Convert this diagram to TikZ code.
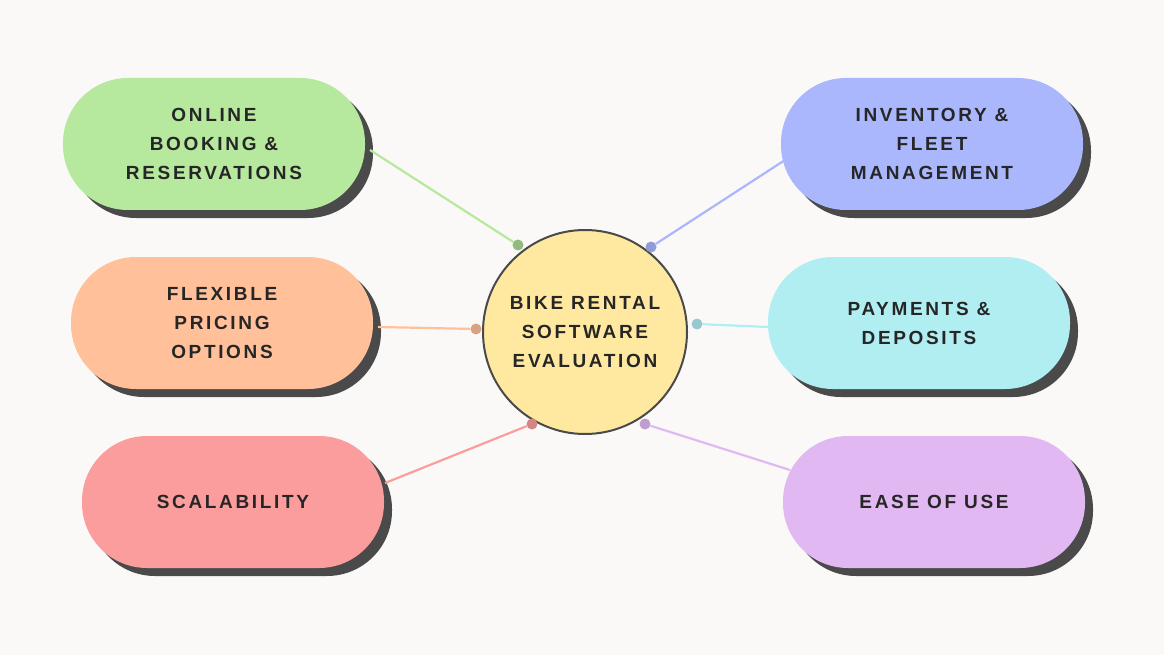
\documentclass[tikz,border=0pt]{standalone}
\usepackage{fontspec}
\setmainfont{Liberation Sans}[LetterSpace=14]
\usetikzlibrary{shadows}
\definecolor{bgc}{HTML}{FAF9F8}
\definecolor{shd}{HTML}{4A4A4A}
\definecolor{cgreen}{HTML}{B6E89E}
\definecolor{corange}{HTML}{FFC09A}
\definecolor{cred}{HTML}{FC9D9D}
\definecolor{cblue}{HTML}{AAB7FD}
\definecolor{ccyan}{HTML}{B1EEF2}
\definecolor{cpurple}{HTML}{E2B8F3}
\definecolor{cyellow}{HTML}{FFE9A1}
\begin{document}
\begin{tikzpicture}[x=1pt,y=-1pt]
  \tikzset{pill/.style={rounded corners=65pt,minimum width=302pt,minimum height=132pt,
      align=center,font=\bfseries\fontsize{19}{29}\selectfont,text=black!85,
      drop shadow={shadow xshift=8pt,shadow yshift=-8pt,fill=shd,opacity=1}},
    link/.style={line width=2.2pt},
    knob/.style={circle,inner sep=0pt,minimum size=11pt}}
  \fill[bgc] (0,0) rectangle (1164,655);
  \useasboundingbox (0,0) rectangle (1164,655);
  % central topic
  \node[circle,draw=shd,line width=2pt,fill=cyellow,minimum size=204pt,align=center,
        font=\bfseries\fontsize{19}{29}\selectfont,text=black!85] (hub) at (585,332)
        {BIKE RENTAL\\SOFTWARE\\EVALUATION};
  % branches
  \node[pill,fill=cgreen] (booking) at (214,144) {ONLINE\\BOOKING \&\\RESERVATIONS};
  \node[pill,fill=corange] (pricing) at (222,323) {FLEXIBLE\\PRICING\\OPTIONS};
  \node[pill,fill=cred] (scale) at (233,502) {SCALABILITY};
  \node[pill,fill=cblue] (fleet) at (932,144) {INVENTORY \&\\FLEET\\MANAGEMENT};
  \node[pill,fill=ccyan] (pay) at (919,323) {PAYMENTS \&\\DEPOSITS};
  \node[pill,fill=cpurple] (ease) at (934,502) {EASE OF USE};
  % connectors
  \node[knob,fill=cgreen!80!black] (k1) at (518,245) {};
  \node[knob,fill=corange!85!black] (k2) at (476,329) {};
  \node[knob,fill=cred!85!black] (k3) at (532,424) {};
  \node[knob,fill=cblue!85!black] (k4) at (651,247) {};
  \node[knob,fill=ccyan!85!black] (k5) at (697,324) {};
  \node[knob,fill=cpurple!85!black] (k6) at (645,424) {};
  \coordinate (b1) at (370,150);
  \coordinate (b2) at (378,327);
  \coordinate (b3) at (385,483);
  \coordinate (b4) at (785,160);
  \coordinate (b5) at (768,327);
  \coordinate (b6) at (790,470);
  \draw[link,cgreen] (b1) -- (k1);
  \draw[link,corange] (b2) -- (k2);
  \draw[link,cred] (b3) -- (k3);
  \draw[link,cblue] (b4) -- (k4);
  \draw[link,ccyan] (b5) -- (k5);
  \draw[link,cpurple] (b6) -- (k6);
\end{tikzpicture}
\end{document}
